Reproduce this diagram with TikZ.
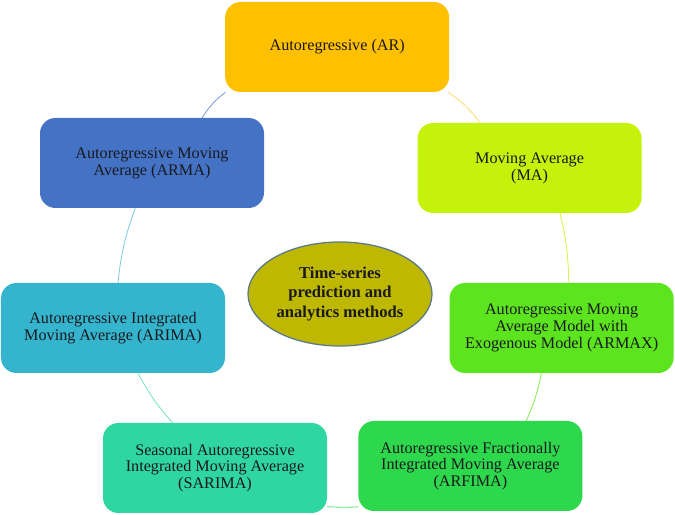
\documentclass[tikz,border=0pt]{standalone}
\usepackage{fontspec}
\setmainfont{Liberation Serif}
\usepackage{xcolor}
\usepackage{tikz}
\usetikzlibrary{shapes.geometric, positioning}
\definecolor{myorange}{RGB}{255,192,0}
\definecolor{mylime}{RGB}{196,242,10}
\definecolor{mygreen}{RGB}{92,228,30}
\definecolor{mymint}{RGB}{46,216,76}
\definecolor{myteal}{RGB}{48,214,160}
\definecolor{mycyan}{RGB}{53,180,206}
\definecolor{myblue}{RGB}{68,114,196}
\definecolor{myolive}{RGB}{190,184,0}
\definecolor{myedge}{RGB}{90,120,140}
\definecolor{mytext}{RGB}{25,25,30}
\tikzset{
  block/.style={rectangle, rounded corners=11pt, minimum width=5.6cm,
    minimum height=2.25cm, align=center, text=mytext,
    font=\fontsize{11.5}{12}\selectfont, inner sep=2pt},
  hub/.style={ellipse, draw=myedge, fill=myolive, line width=0.9pt,
    minimum width=4.6cm, minimum height=2.6cm, align=center, text=mytext,
    font=\fontsize{11.8}{14}\selectfont\bfseries, inner sep=1pt},
  link/.style={line width=0.6pt, bend left=#1},
  link/.default=8
}

\begin{document}
\begin{tikzpicture}
  \useasboundingbox (0,0) rectangle (16.875,12.875);

  \node [hub] (hub) at (8.5,5.525) {Time-series\\prediction and\\analytics methods};

  \node [block, fill=myorange] (ar) at (8.43,11.7) {Autoregressive (AR)};
  \node [block, fill=mylime] (ma) at (13.24,8.675) {Moving Average\\(MA)};
  \node [block, fill=mygreen] (armax) at (14.04,4.675) {Autoregressive Moving\\Average Model with\\Exogenous Model (ARMAX)};
  \node [block, fill=mymint] (arfima) at (11.76,1.225) {Autoregressive Fractionally\\Integrated Moving Average\\(ARFIMA)};
  \node [block, fill=myteal] (sarima) at (5.375,1.175) {Seasonal Autoregressive\\Integrated Moving Average\\(SARIMA)};
  \node [block, fill=mycyan] (arima) at (2.825,4.675) {Autoregressive Integrated\\Moving Average (ARIMA)};
  \node [block, fill=myblue] (arma) at (3.8,8.8) {Autoregressive Moving\\Average (ARMA)};

  % ring of links, clockwise
  \draw [link=10, myorange!55] (ar) to (ma);
  \draw [link=6, mylime!75] (ma.-56) to (armax.81);
  \draw [link=6, mygreen!75] (armax.246) to (arfima.39);
  \draw [link=3, mymint!80] (arfima.200) to (sarima.-19);
  \draw [link=7, myteal!65] (sarima) to (arima);
  \draw [link=7, mycyan!65] (arima) to (arma);
  \draw [link=10, myblue!70] (arma) to (ar);
\end{tikzpicture}
\end{document}
